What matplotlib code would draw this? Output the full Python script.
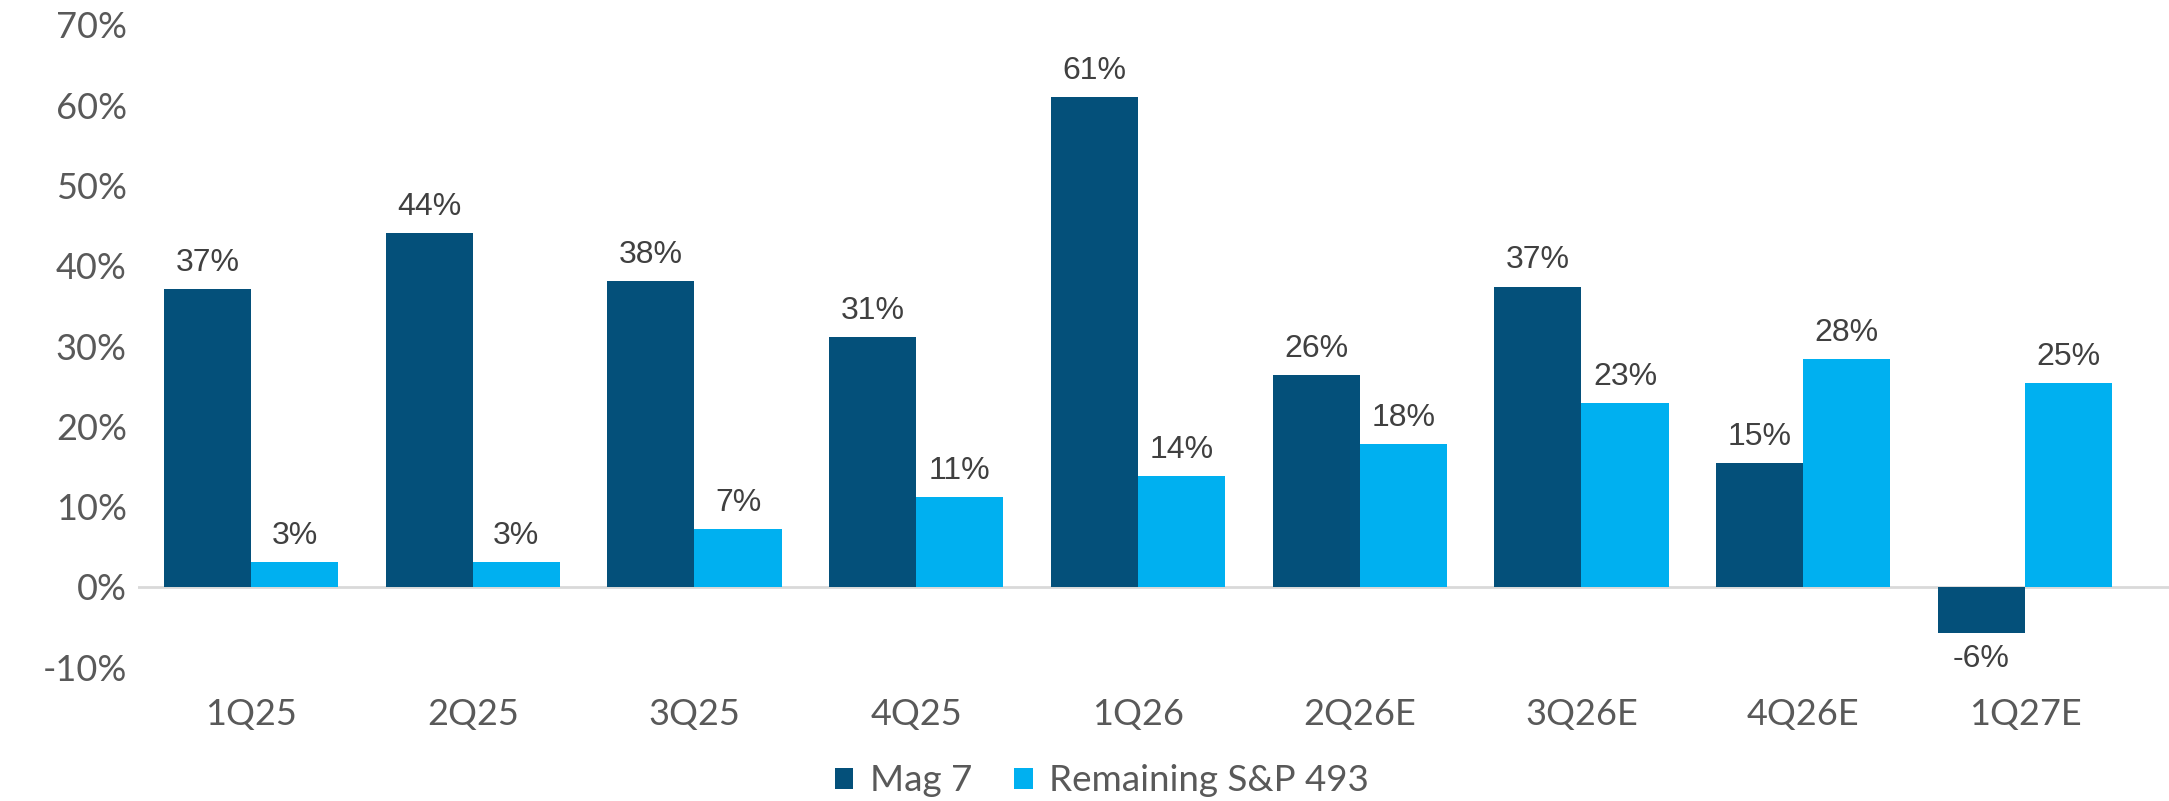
import matplotlib.pyplot as plt
import numpy as np

quarters = ['1Q25', '2Q25', '3Q25', '4Q25', '1Q26', '2Q26E', '3Q26E', '4Q26E', '1Q27E']
mag7 = [37.1, 44.1, 38.1, 31.1, 61.0, 26.4, 37.4, 15.4, -5.7]
rest493 = [3.1, 3.1, 7.2, 11.2, 13.8, 17.8, 22.9, 28.4, 25.4]
yticks = [-10, 0, 10, 20, 30, 40, 50, 60, 70]

dark = '#04507A'
light = '#00B0F0'

fig = plt.figure(figsize=(21.69, 8.01), dpi=100)
ax = fig.add_axes([0.0636, 0.167, 0.9364, 0.802])

x = np.arange(len(quarters))
w = 0.393
b1 = ax.bar(x - w / 2, mag7, w, color=dark, label='Mag 7')
b2 = ax.bar(x + w / 2, rest493, w, color=light, label='Remaining S&P 493')

# value labels above (or below, for negatives) each bar
for bars, vals in ((b1, mag7), (b2, rest493)):
    for bar, v in zip(bars, vals):
        cx = bar.get_x() + bar.get_width() / 2
        off = 1.4 if v >= 0 else -1.4
        ax.text(cx, v + off, f'{v:.0f}%', ha='center',
                va='bottom' if v >= 0 else 'top',
                fontsize=23, color='#404040', family='Liberation Sans')

ax.axhline(0, color='#D9D9D9', lw=2, zorder=0)
ax.set_ylim(-10, 70)
ax.set_xlim(-0.51, 8.65)
ax.set_yticks(yticks)
ax.set_yticklabels([f'{t}%' for t in yticks])
ax.set_xticks(x)
ax.set_xticklabels(quarters)
ax.tick_params(length=0, labelsize=26, labelcolor='#595959')
ax.tick_params(axis='x', pad=22)
ax.tick_params(axis='y', pad=8)
for lab in ax.get_xticklabels() + ax.get_yticklabels():
    lab.set_family('Lato')
for s in ax.spines.values():
    s.set_visible(False)

leg = fig.legend(loc='center', bbox_to_anchor=(0.508, 0.025), ncol=2, frameon=False,
                 prop={'family': 'Lato', 'size': 26.5}, handlelength=0.5,
                 handleheight=0.5, handletextpad=0.45, columnspacing=1.15)
for t in leg.get_texts():
    t.set_color('#595959')

fig.savefig('out.png', dpi=100)
